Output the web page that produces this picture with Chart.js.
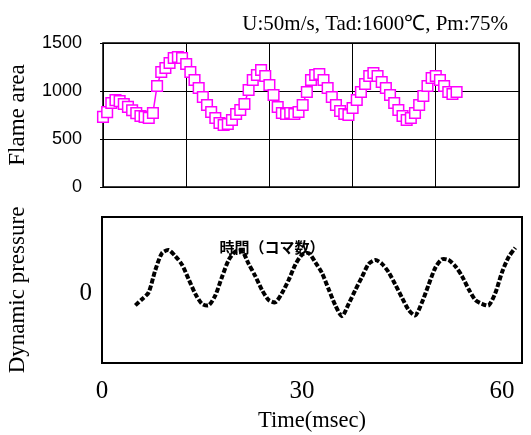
<!DOCTYPE html>
<html>
<head>
<meta charset="utf-8">
<script src="https://cdn.jsdelivr.net/npm/chart.js@4.4.0/dist/chart.umd.min.js"></script>
<style>
  html, body { margin: 0; padding: 0; background: #fff; }
  #wrap { position: relative; width: 531px; height: 435px; background: #fff; }
  #flameCanvas { position: absolute; left: 0; top: 0; }
  #pressureCanvas { position: absolute; left: 0; top: 200px; }
</style>
</head>
<body>
<div id="wrap">
  <canvas id="flameCanvas" width="531" height="200"></canvas>
  <canvas id="pressureCanvas" width="531" height="235"></canvas>
</div>
<script>
// run conditions shown above the upper panel
const conditionText = "U:50m/s, Tad:1600℃, Pm:75%";
const frameLabel = "時間（コマ数）";

// flame area, one value per frame
const flameFrameStep = 0.5;
const flameArea = [730, 780, 875, 905, 895, 865, 835, 800, 770, 740, 730, 720, 771,
  1052, 1198, 1240, 1292, 1344, 1354, 1344, 1281, 1198, 1115, 1031, 938, 854, 781,
  719, 667, 646, 656, 698, 760, 802, 865, 1010, 1115, 1167, 1219, 1156, 1063, 958,
  833, 771, 760, 771, 760, 781, 854, 990, 1115, 1167, 1177, 1115, 1031, 938, 854,
  792, 760, 750, 823, 906, 990, 1073, 1156, 1188, 1156, 1094, 1031, 958, 875, 802,
  740, 698, 719, 771, 854, 948, 1052, 1135, 1156, 1115, 1052, 990, 969, 990];
const flameTicks = [0, 500, 1000, 1500];

// dynamic pressure (relative), sampled every 1 ms from 5 ms
const pressureStart = 5;
const pressure = [-0.15, -0.07, 0.02, 0.31, 0.53, 0.57, 0.49, 0.38, 0.19, 0.00,
  -0.13, -0.15, -0.02, 0.22, 0.44, 0.55, 0.56, 0.39, 0.23, 0.05, -0.08, -0.11,
  0.01, 0.18, 0.38, 0.51, 0.53, 0.41, 0.27, 0.06, -0.15, -0.29, -0.13, 0.05, 0.22,
  0.39, 0.44, 0.39, 0.28, 0.12, -0.05, -0.21, -0.28, -0.11, 0.12, 0.34, 0.45, 0.44,
  0.36, 0.23, 0.06, -0.08, -0.13, -0.15, 0.01, 0.28, 0.48, 0.60];
const timeTicks = [0, 30, 60];
const pressureTicks = [0];

const SERIF = "'Liberation Serif', 'Times New Roman', serif";
const SANS = "'Liberation Sans', Arial, sans-serif";

// keep the plot area where the layout padding puts it
function noLabelPadding(s) {
  s.paddingTop = 0;
  s.paddingBottom = 0;
  s.paddingLeft = 0;
  s.paddingRight = 0;
}

// frame around the plot area
const plotBox = {
  id: 'plotBox',
  beforeDatasetsDraw(chart, args, opts) {
    const { ctx, chartArea: a } = chart;
    ctx.save();
    ctx.strokeStyle = '#000';
    ctx.lineWidth = opts.width || 1;
    ctx.strokeRect(a.left, a.top, a.right - a.left, a.bottom - a.top);
    ctx.restore();
  }
};

const headerText = {
  id: 'headerText',
  afterDraw(chart) {
    const ctx = chart.ctx;
    ctx.save();
    ctx.fillStyle = '#000';
    ctx.font = "21px " + SERIF;
    ctx.textAlign = 'right';
    ctx.textBaseline = 'alphabetic';
    ctx.fillText(conditionText, 508, 30);
    ctx.restore();
  }
};

const frameText = {
  id: 'frameText',
  afterDatasetsDraw(chart) {
    const { ctx, scales } = chart;
    ctx.save();
    ctx.fillStyle = '#000';
    ctx.font = "bold 15px 'Noto Sans CJK JP', sans-serif";
    ctx.textAlign = 'center';
    ctx.textBaseline = 'middle';
    ctx.fillText(frameLabel, scales.x.getPixelForValue(25.5), scales.y.getPixelForValue(0.6));
    ctx.restore();
  }
};

new Chart(document.getElementById('flameCanvas'), {
  type: 'line',
  data: {
    datasets: [{
      data: flameArea.map((v, i) => ({ x: i * flameFrameStep, y: v })),
      borderColor: '#ff00ff',
      borderWidth: 1.5,
      pointStyle: 'rect',
      pointRadius: 7.5,
      pointBorderWidth: 1.5,
      pointBorderColor: '#ff00ff',
      pointBackgroundColor: '#ffffff',
      tension: 0,
      clip: false
    }]
  },
  options: {
    responsive: false,
    animation: false,
    layout: { padding: { top: 43, right: 12, left: 0, bottom: 0 } },
    plugins: {
      legend: { display: false },
      tooltip: { enabled: false },
      plotBox: { width: 1.5 }
    },
    scales: {
      x: {
        type: 'linear',
        min: 0,
        max: 50,
        ticks: { display: false, stepSize: 10 },
        grid: { color: '#000', lineWidth: 1, drawTicks: false },
        border: { display: false },
        afterFit(s) { noLabelPadding(s); s.height = 13; }
      },
      y: {
        min: 0,
        max: 1500,
        afterBuildTicks(s) { s.ticks = flameTicks.map(v => ({ value: v })); },
        ticks: {
          color: '#000',
          font: { family: SANS, size: 18 },
          padding: 18,
          callback: v => String(v)
        },
        grid: { color: '#000', lineWidth: 1, tickLength: 3 },
        border: { display: false },
        title: {
          display: true,
          text: 'Flame area',
          color: '#000',
          font: { family: SERIF, size: 23 },
          padding: { top: 4, bottom: 0 }
        },
        afterFit(s) { noLabelPadding(s); s.width = 103; }
      }
    }
  },
  plugins: [plotBox, headerText]
});

new Chart(document.getElementById('pressureCanvas'), {
  type: 'line',
  data: {
    datasets: [{
      data: pressure.map((v, i) => ({ x: pressureStart + i, y: v })),
      borderColor: '#000',
      borderWidth: 4,
      borderDash: [5, 2],
      pointRadius: 0,
      tension: 0.25
    }]
  },
  options: {
    responsive: false,
    animation: false,
    layout: { padding: { top: 17, right: 9, left: 0, bottom: 0 } },
    plugins: {
      legend: { display: false },
      tooltip: { enabled: false },
      plotBox: { width: 2 }
    },
    scales: {
      x: {
        type: 'linear',
        min: 0,
        max: 63,
        afterBuildTicks(s) { s.ticks = timeTicks.map(v => ({ value: v })); },
        ticks: { color: '#000', font: { family: SERIF, size: 25 }, padding: 13, maxRotation: 0 },
        grid: { display: false, drawTicks: false },
        border: { display: false },
        title: {
          display: true,
          text: 'Time(msec)',
          color: '#000',
          font: { family: SERIF, size: 22.5 },
          padding: { top: 0, bottom: 0 }
        },
        afterFit(s) { noLabelPadding(s); s.height = 72; }
      },
      y: {
        min: -0.9,
        max: 1,
        afterBuildTicks(s) { s.ticks = pressureTicks.map(v => ({ value: v })); },
        ticks: { color: '#000', font: { family: SERIF, size: 25 }, padding: 10 },
        grid: { display: false, drawTicks: false },
        border: { display: false },
        title: {
          display: true,
          text: 'Dynamic pressure',
          color: '#000',
          font: { family: SERIF, size: 23 },
          padding: { top: 4, bottom: 0 }
        },
        afterFit(s) { noLabelPadding(s); s.width = 102; }
      }
    }
  },
  plugins: [plotBox, frameText]
});
</script>
</body>
</html>
